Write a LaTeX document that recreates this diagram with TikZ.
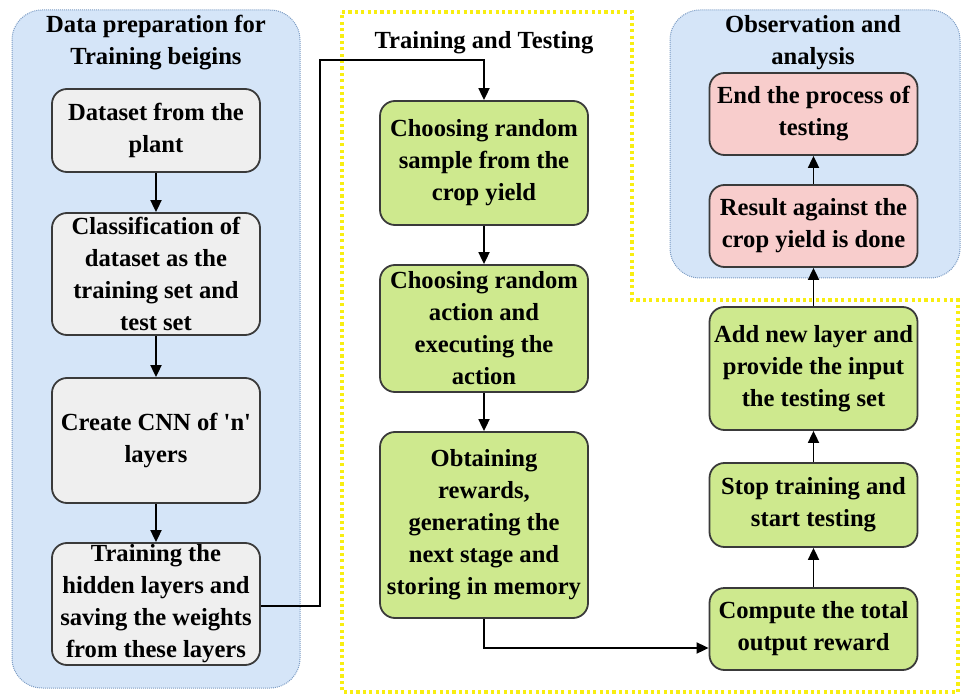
\documentclass[tikz,border=0pt]{standalone}
\usepackage{fontspec}
\setmainfont{Liberation Serif}
\usetikzlibrary{arrows.meta}

\definecolor{panelblue}{HTML}{D5E5F8}
\definecolor{paneledge}{HTML}{7C9CC4}
\definecolor{boxgray}{HTML}{EFEFEF}
\definecolor{boxgreen}{HTML}{CEE98E}
\definecolor{boxred}{HTML}{F8CDCC}
\definecolor{boxedge}{HTML}{3A3A3A}
\definecolor{zoneyellow}{HTML}{F8EE10}

\begin{document}
\begin{tikzpicture}[x=0.5pt, y=-0.5pt,
    font=\bfseries\fontsize{12.3}{16}\selectfont,
    panel/.style={fill=panelblue, draw=paneledge, line width=0.5pt,
      dash pattern=on 0.5pt off 0.5pt, rounded corners=15pt},
    zone/.style={draw=zoneyellow, line width=1.6pt, dash pattern=on 1.6pt off 1.6pt},
    title/.style={align=center, inner sep=0pt},
    stepbox/.style={draw=boxedge, line width=0.9pt, rounded corners=7.5pt,
      align=center, inner sep=0pt, minimum width=104pt},
    arr/.style={-{Triangle[length=6pt, width=5.5pt]}, line width=0.9pt}]
  \useasboundingbox (0,0) rectangle (964,695);

  % background panels and the training zone
  \draw[panel] (12,10) rectangle (300,688);
  \draw[panel] (670,10) rectangle (960,278);
  \draw[zone] (342,12) -- (632,12) -- (632,300) -- (958,300) -- (958,692) -- (342,692) -- cycle;

  \node[title] (tprep) at (156,43) {Data preparation for\\Training beigins};
  \node[title] (ttrain) at (484,43) {Training and Testing};
  \node[title] (tobs) at (813,43) {Observation and\\analysis};

  % data preparation
  \node[stepbox, fill=boxgray, minimum height=41.5pt] (data) at (156,130.5) {Dataset from the\\plant};
  \node[stepbox, fill=boxgray, minimum height=61pt] (classify) at (156,274) {Classification of\\dataset as the\\training set and\\test set};
  \node[stepbox, fill=boxgray, minimum height=62.5pt] (cnn) at (156,440.5) {Create CNN of \textquotesingle n\textquotesingle\\layers};
  \node[stepbox, fill=boxgray, minimum height=61pt] (hidden) at (156,604) {Training the\\hidden layers and\\saving the weights\\from these layers};

  % training and testing
  \node[stepbox, fill=boxgreen, minimum height=62pt] (sample) at (484,163) {Choosing random\\sample from the\\crop yield};
  \node[stepbox, fill=boxgreen, minimum height=63.5pt] (action) at (484,328.5) {Choosing random\\action and\\executing the\\action};
  \node[stepbox, fill=boxgreen, minimum height=93pt] (reward) at (484,525) {Obtaining\\rewards,\\generating the\\next stage and\\storing in memory};
  \node[stepbox, fill=boxgreen, minimum height=41pt] (total) at (813.5,629) {Compute the total\\output reward};
  \node[stepbox, fill=boxgreen, minimum height=42pt] (stop) at (813.5,505) {Stop training and\\start testing};
  \node[stepbox, fill=boxgreen, minimum height=61.5pt] (layer) at (813.5,368.5) {Add new layer and\\provide the input\\the testing set};

  % observation
  \node[stepbox, fill=boxred, minimum height=41pt] (result) at (813.5,226) {Result against the\\crop yield is done};
  \node[stepbox, fill=boxred, minimum height=41pt] (finish) at (813.5,114) {End the process of\\testing};

  \coordinate (turn) at (320,60);

  \draw[arr] (data) -- (classify);
  \draw[arr] (classify) -- (cnn);
  \draw[arr] (cnn) -- (hidden);
  \draw[arr] ([yshift=-1pt]hidden.east) -| (turn) -| (sample.north);
  \draw[arr] (sample) -- (action);
  \draw[arr] (action) -- (reward);
  \draw[arr] (reward.south) |- ([yshift=-9.5pt]total.west);
  \draw[arr] (total) -- (stop);
  \draw[arr] (stop) -- (layer);
  \draw[arr] (layer) -- (result);
  \draw[arr] (result) -- (finish);
\end{tikzpicture}
\end{document}
